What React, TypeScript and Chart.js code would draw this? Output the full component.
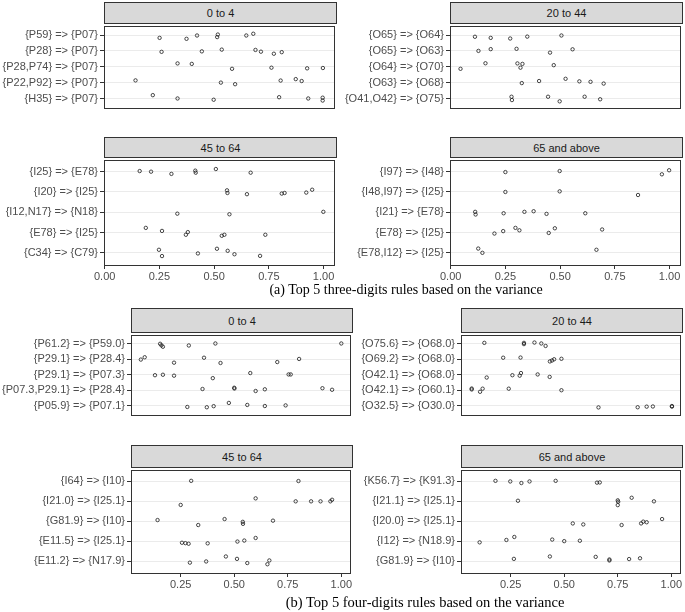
import React, { useEffect, useRef } from "react";
import { Chart, registerables } from "chart.js";
Chart.register(...registerables);

// ---------- (a) Top 5 three-digits rules ----------
const a1Title = "0 to 4";
const a1Rules = ["{P59} => {P07}", "{P28} => {P07}", "{P28,P74} => {P07}", "{P22,P92} => {P07}", "{H35} => {P07}"];
const a1Values = [
  [0.251, 0.374, 0.422, 0.517, 0.514, 0.647, 0.679],
  [0.26, 0.444, 0.535, 0.689, 0.714, 0.773, 0.809],
  [0.333, 0.398, 0.582, 0.762, 0.925, 0.997],
  [0.141, 0.531, 0.596, 0.804, 0.873, 0.9],
  [0.22, 0.333, 0.498, 0.797, 0.93, 0.996, 0.996],
];
const a1Jitter = [
  [0.18, 0.24, 0.03, -0.03, 0.13, 0.03, -0.08],
  [0.06, 0.03, -0.08, -0.06, 0.05, 0.18, 0.08],
  [-0.21, -0.18, 0.13, 0.06, 0.1, 0.08],
  [-0.14, 0, 0.1, -0.13, -0.22, -0.1],
  [-0.21, 0, 0.08, -0.08, 0, -0.05, 0.13],
];

const a2Title = "20 to 44";
const a2Rules = ["{O65} => {O64}", "{O65} => {O63}", "{O64} => {O70}", "{O63} => {O68}", "{O41,O42} => {O75}"];
const a2Values = [
  [0.111, 0.183, 0.272, 0.35, 0.506],
  [0.127, 0.183, 0.301, 0.454, 0.557],
  [0.045, 0.159, 0.305, 0.328, 0.319, 0.471],
  [0.325, 0.404, 0.525, 0.588, 0.639, 0.699],
  [0.278, 0.28, 0.445, 0.498, 0.612, 0.683],
];
const a2Jitter = [
  [0.11, 0.18, 0.22, 0.1, 0.03],
  [0, -0.11, -0.13, 0.11, -0.1],
  [0.13, -0.22, -0.21, -0.18, 0.06, -0.1],
  [0.03, -0.1, -0.24, -0.08, -0.05, 0.06],
  [-0.11, 0.1, -0.11, 0.18, -0.11, 0.05],
];

const a3Title = "45 to 64";
const a3Rules = ["{I25} => {E78}", "{I20} => {I25}", "{I12,N17} => {N18}", "{E78} => {I25}", "{C34} => {C79}"];
const a3Values = [
  [0.16, 0.212, 0.305, 0.414, 0.416, 0.508, 0.667],
  [0.559, 0.561, 0.65, 0.809, 0.822, 0.921, 0.948],
  [0.332, 0.57, 0.999],
  [0.188, 0.262, 0.371, 0.38, 0.535, 0.547, 0.734],
  [0.248, 0.262, 0.426, 0.513, 0.562, 0.593, 0.71],
];
const a3Jitter = [
  [-0.03, 0, 0.11, -0.05, 0.05, -0.13, 0.05],
  [-0.08, 0.05, 0.11, 0.08, 0.05, 0.03, -0.11],
  [0.07, 0.1, -0.02],
  [-0.23, -0.08, 0.11, -0.02, 0.16, 0.11, 0.11],
  [-0.15, 0.16, 0.03, -0.2, -0.1, 0.07, 0.15],
];

const a4Title = "65 and above";
const a4Rules = ["{I97} => {I48}", "{I48,I97} => {I25}", "{I21} => {E78}", "{E78} => {I25}", "{E78,I12} => {I25}"];
const a4Values = [
  [0.25, 0.498, 0.965, 0.998],
  [0.25, 0.498, 0.856],
  [0.112, 0.114, 0.242, 0.337, 0.379, 0.438, 0.615],
  [0.2, 0.24, 0.296, 0.314, 0.448, 0.476, 0.692],
  [0.126, 0.145, 0.666],
];
const a4Jitter = [
  [0.02, -0.03, 0.13, -0.07],
  [0, -0.03, 0.15],
  [-0.02, 0.11, 0.05, -0.02, -0.05, 0.08, 0.05],
  [0.05, -0.07, -0.23, -0.11, 0.02, -0.21, -0.15],
  [-0.21, 0, -0.15],
];

const aTicks = [0, 0.25, 0.5, 0.75, 1];
const aCaption = "(a) Top 5 three-digits rules based on the variance";

// ---------- (b) Top 5 four-digits rules ----------
const b1Title = "0 to 4";
const b1Rules = ["{P61.2} => {P59.0}", "{P29.1} => {P28.4}", "{P29.1} => {P07.3}", "{P07.3,P29.1} => {P28.4}", "{P05.9} => {P07.1}"];
const b1Values = [
  [0.154, 0.16, 0.167, 0.288, 0.412, 1.0],
  [0.064, 0.082, 0.219, 0.359, 0.436, 0.701, 0.803],
  [0.13, 0.167, 0.219, 0.4, 0.575, 0.754, 0.764],
  [0.352, 0.5, 0.501, 0.6, 0.643, 0.912, 0.957],
  [0.281, 0.372, 0.404, 0.475, 0.561, 0.643, 0.74],
];
const b1Jitter = [
  [0.0, 0.1, 0.19, 0.11, -0.02, -0.02],
  [0.02, -0.13, 0.22, -0.1, 0.24, 0.18, -0.02],
  [0.03, 0, 0.06, 0.22, -0.11, -0.02, -0.02],
  [-0.08, -0.16, -0.11, 0.05, -0.06, -0.13, -0.03],
  [0.08, 0.1, 0.03, -0.18, -0.05, 0.02, -0.02],
];

const b2Title = "20 to 44";
const b2Rules = ["{O75.6} => {O68.0}", "{O69.2} => {O68.0}", "{O42.1} => {O68.0}", "{O42.1} => {O60.1}", "{O32.5} => {O30.0}"];
const b2Values = [
  [0.127, 0.312, 0.312, 0.361, 0.393, 0.413],
  [0.215, 0.296, 0.433, 0.443, 0.453, 0.487],
  [0.138, 0.258, 0.292, 0.298, 0.376, 0.432],
  [0.068, 0.068, 0.107, 0.119, 0.241, 0.487],
  [0.66, 0.843, 0.885, 0.914, 1.003, 1.003],
];
const b2Jitter = [
  [-0.06, -0.06, 0.02, -0.08, -0.02, 0.14],
  [-0.1, -0.11, 0.14, 0.08, 0, -0.03],
  [0.18, 0.03, 0.06, -0.11, -0.02, 0.14],
  [-0.11, -0.05, 0.1, -0.1, -0.1, 0],
  [0.11, 0.1, 0.06, 0.05, 0.02, 0.06],
];

const b3Title = "45 to 64";
const b3Rules = ["{I64} => {I10}", "{I21.0} => {I25.1}", "{G81.9} => {I10}", "{E11.5} => {I25.1}", "{E11.2} => {N17.9}"];
const b3Values = [
  [0.299, 0.8],
  [0.25, 0.6, 0.787, 0.859, 0.903, 0.949, 0.957],
  [0.142, 0.332, 0.455, 0.54, 0.541, 0.681],
  [0.256, 0.272, 0.287, 0.376, 0.515, 0.547, 0.6],
  [0.293, 0.369, 0.461, 0.513, 0.561, 0.655, 0.664],
];
const b3Jitter = [
  [-0.03, -0.02],
  [0.18, -0.15, 0, 0, 0, 0, -0.08],
  [-0.06, 0.19, -0.11, 0.03, 0.13, -0.03],
  [0.08, 0.1, 0.13, 0.11, 0.02, -0.03, -0.16],
  [0.08, 0.02, -0.23, -0.11, 0.1, 0.16, -0.03],
];

const b4Title = "65 and above";
const b4Rules = ["{K56.7} => {K91.3}", "{I21.1} => {I25.1}", "{I20.0} => {I25.1}", "{I12} => {N18.9}", "{G81.9} => {I10}"];
const b4Values = [
  [0.179, 0.248, 0.3, 0.338, 0.46, 0.653, 0.666],
  [0.284, 0.75, 0.752, 0.75, 0.815, 0.919],
  [0.54, 0.589, 0.768, 0.859, 0.869, 0.885, 0.957],
  [0.105, 0.23, 0.267, 0.444, 0.5, 0.573],
  [0.265, 0.433, 0.647, 0.711, 0.711, 0.803, 0.854],
];
const b4Jitter = [
  [-0.03, 0, 0.08, 0, -0.03, 0.06, 0.05],
  [-0.03, -0.05, 0.02, 0.19, -0.18, 0],
  [0.11, 0.16, 0.19, 0.11, 0.02, 0.05, -0.11],
  [0.06, -0.06, -0.21, -0.08, 0, -0.02],
  [-0.11, -0.23, -0.21, -0.08, -0.03, -0.1, -0.14],
];

const bTicks = [0.25, 0.5, 0.75, 1];
const bCaption = "(b) Top 5 four-digits rules based on the variance";

// ---------- rendering ----------
const SANS = '"Liberation Sans", Arial, sans-serif';
const SERIF = '"Liberation Serif", "Times New Roman", serif';

const borderPlugin = {
  id: "panelBorder",
  afterDraw(chart: any) {
    const { ctx, chartArea } = chart;
    ctx.save();
    ctx.strokeStyle = "#333333";
    ctx.lineWidth = 1;
    ctx.strokeRect(
      Math.round(chartArea.left) + 0.5,
      Math.round(chartArea.top) + 0.5,
      Math.round(chartArea.right - chartArea.left) - 1,
      Math.round(chartArea.bottom - chartArea.top) - 1
    );
    ctx.restore();
  },
};

type PanelProps = {
  title: string;
  rules: string[];
  values: number[][];
  jitter: number[][];
  colLeft: number;
  plotLeft: number;
  plotRight: number;
  stripTop: number;
  plotTop: number;
  plotBottom: number;
  axisH: number;
  showX: boolean;
  xMin: number;
  xMax: number;
  ticks: number[];
  fontSize: number;
};

function Panel(p: PanelProps) {
  const ref = useRef<HTMLCanvasElement | null>(null);
  const width = p.plotRight - p.colLeft;
  const height = p.plotBottom - p.plotTop + (p.showX ? p.axisH : 0);
  const yAxisW = p.plotLeft - p.colLeft;

  useEffect(() => {
    if (!ref.current) return;
    const points: { x: number; y: number }[] = [];
    p.values.forEach((row, i) => {
      row.forEach((v, j) => {
        points.push({ x: v, y: i + (p.jitter[i][j] || 0) });
      });
    });
    const font = { family: SANS, size: p.fontSize };
    const chart = new Chart(ref.current, {
      type: "scatter",
      data: {
        datasets: [
          {
            data: points,
            pointStyle: "circle",
            pointRadius: 1.7,
            pointBorderWidth: 0.8,
            pointBackgroundColor: "rgba(0,0,0,0)",
            pointBorderColor: "#1a1a1a",
            pointHoverRadius: 1.7,
          } as any,
        ],
      },
      options: {
        animation: false,
        responsive: false,
        maintainAspectRatio: false,
        devicePixelRatio: 1,
        events: [],
        layout: { padding: 0 },
        plugins: { legend: { display: false }, tooltip: { enabled: false }, title: { display: false } },
        scales: {
          x: {
            type: "linear",
            display: p.showX,
            min: p.xMin,
            max: p.xMax,
            afterBuildTicks: (s: any) => {
              s.ticks = p.ticks.map((v) => ({ value: v }));
            },
            afterFit: (s: any) => {
              s.height = p.axisH;
              s.paddingLeft = 0;
              s.paddingRight = 0;
            },
            grid: {
              drawOnChartArea: false,
              drawTicks: true,
              tickLength: 4,
              tickColor: "#333333",
              color: "#333333",
            },
            border: { display: false },
            ticks: {
              color: "#4d4d4d",
              font,
              padding: 1,
              maxRotation: 0,
              autoSkip: false,
              callback: (v: any) => Number(v).toFixed(2),
            },
          },
          y: {
            type: "linear",
            reverse: true,
            min: -0.6,
            max: 4.6,
            afterBuildTicks: (s: any) => {
              s.ticks = p.rules.map((_, i) => ({ value: i }));
            },
            afterFit: (s: any) => {
              s.width = yAxisW;
              s.paddingTop = 0;
              s.paddingBottom = 0;
            },
            grid: {
              color: "#ebebeb",
              lineWidth: 1,
              drawTicks: true,
              tickLength: 4,
              tickColor: "#333333",
            },
            border: { display: false },
            ticks: {
              color: "#4d4d4d",
              font,
              padding: 2,
              autoSkip: false,
              callback: (v: any) => p.rules[Math.round(Number(v))] ?? "",
            },
          },
        },
      } as any,
      plugins: [borderPlugin],
    });
    return () => chart.destroy();
  }, []);

  return (
    <>
      <div
        style={{
          position: "absolute",
          left: p.plotLeft,
          top: p.stripTop,
          width: p.plotRight - p.plotLeft,
          height: p.plotTop - p.stripTop + 1,
          boxSizing: "border-box",
          background: "#d9d9d9",
          border: "1px solid #333333",
          fontFamily: SANS,
          fontSize: p.fontSize,
          color: "#1a1a1a",
          display: "flex",
          alignItems: "center",
          justifyContent: "center",
        }}
      >
        {p.title}
      </div>
      <canvas
        ref={ref}
        width={width}
        height={height}
        style={{ position: "absolute", left: p.colLeft, top: p.plotTop, width, height }}
      />
    </>
  );
}

export default function App() {
  const aCommon = { xMin: -0.003, xMax: 1.05, ticks: aTicks, fontSize: 11, axisH: 20 };
  const bCommon = { xMin: 0.018, xMax: 1.043, ticks: bTicks, fontSize: 11, axisH: 22 };
  const aLeft = { colLeft: 0, plotLeft: 104, plotRight: 337 };
  const aRight = { colLeft: 342, plotLeft: 450, plotRight: 683 };
  const bLeft = { colLeft: 0, plotLeft: 131, plotRight: 353 };
  const bRight = { colLeft: 356, plotLeft: 461, plotRight: 683 };
  const aTop = { stripTop: 2, plotTop: 23, plotBottom: 128, showX: false };
  const aBot = { stripTop: 137, plotTop: 157, plotBottom: 265, showX: true };
  const bTop = { stripTop: 308, plotTop: 332, plotBottom: 437, showX: false };
  const bBot = { stripTop: 445, plotTop: 467, plotBottom: 573, showX: true };

  return (
    <div style={{ position: "absolute", left: 0, top: 0, width: 685, height: 612, background: "#ffffff", overflow: "hidden" }}>
      <Panel title={a1Title} rules={a1Rules} values={a1Values} jitter={a1Jitter} {...aCommon} {...aLeft} {...aTop} />
      <Panel title={a2Title} rules={a2Rules} values={a2Values} jitter={a2Jitter} {...aCommon} {...aRight} {...aTop} />
      <Panel title={a3Title} rules={a3Rules} values={a3Values} jitter={a3Jitter} {...aCommon} {...aLeft} {...aBot} />
      <Panel title={a4Title} rules={a4Rules} values={a4Values} jitter={a4Jitter} {...aCommon} {...aRight} {...aBot} />
      <div
        style={{
          position: "absolute",
          left: 106,
          width: 600,
          top: 281,
          textAlign: "center",
          fontFamily: SERIF,
          fontSize: 14,
          lineHeight: "18px",
          color: "#000",
        }}
      >
        {aCaption}
      </div>
      <Panel title={b1Title} rules={b1Rules} values={b1Values} jitter={b1Jitter} {...bCommon} {...bLeft} {...bTop} />
      <Panel title={b2Title} rules={b2Rules} values={b2Values} jitter={b2Jitter} {...bCommon} {...bRight} {...bTop} />
      <Panel title={b3Title} rules={b3Rules} values={b3Values} jitter={b3Jitter} {...bCommon} {...bLeft} {...bBot} />
      <Panel title={b4Title} rules={b4Rules} values={b4Values} jitter={b4Jitter} {...bCommon} {...bRight} {...bBot} />
      <div
        style={{
          position: "absolute",
          left: 125,
          width: 600,
          top: 593,
          textAlign: "center",
          fontFamily: SERIF,
          fontSize: 14.5,
          lineHeight: "18px",
          color: "#000",
        }}
      >
        {bCaption}
      </div>
    </div>
  );
}
